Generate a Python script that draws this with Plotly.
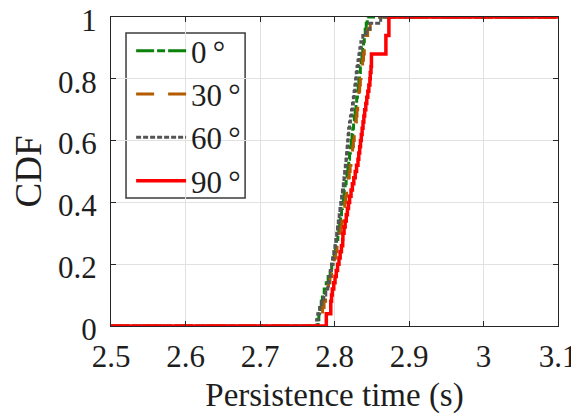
import numpy as np
import plotly.graph_objects as go

# Persistence time samples (s)
t_0deg = [2.778, 2.779, 2.7806, 2.7822, 2.7838, 2.7862, 2.7889, 2.7915, 2.7942, 2.7963,
          2.798, 2.7996, 2.8012, 2.8029, 2.8045, 2.8057, 2.807, 2.8082, 2.8094, 2.8107,
          2.8119, 2.8131, 2.8143, 2.8156, 2.8168, 2.818, 2.8191, 2.8202, 2.8213, 2.8224,
          2.8235, 2.8245, 2.8256, 2.8266, 2.8277, 2.8288, 2.8298, 2.8308, 2.8318, 2.8327,
          2.8337, 2.8347, 2.8358, 2.8368, 2.8379, 2.8389, 2.84, 2.8412, 2.8426, 2.844]
t_30deg = [2.781, 2.7825, 2.784, 2.786, 2.788, 2.79, 2.792, 2.794, 2.796, 2.798,
           2.7998, 2.8016, 2.8034, 2.8052, 2.807, 2.8084, 2.8097, 2.8111, 2.8125, 2.8138,
           2.8151, 2.8163, 2.8175, 2.8187, 2.8198, 2.821, 2.8221, 2.8232, 2.8243, 2.8254,
           2.8265, 2.8275, 2.8284, 2.8293, 2.8302, 2.8311, 2.832, 2.8329, 2.8338, 2.8347,
           2.8356, 2.8365, 2.8377, 2.8389, 2.84, 2.8412, 2.8424, 2.8445, 2.848, 2.852]
t_60deg = [2.776, 2.7775, 2.78, 2.7829, 2.7856, 2.7883, 2.791, 2.7926, 2.7943, 2.7959,
           2.7975, 2.7992, 2.8006, 2.8017, 2.8029, 2.804, 2.8051, 2.8063, 2.8073, 2.8084,
           2.8095, 2.8106, 2.8118, 2.8127, 2.8136, 2.8145, 2.8154, 2.8162, 2.8169, 2.8176,
           2.8183, 2.819, 2.8201, 2.8214, 2.8228, 2.8241, 2.8253, 2.8263, 2.8273, 2.8283,
           2.8292, 2.8302, 2.8315, 2.8328, 2.834, 2.8354, 2.838, 2.8425, 2.8473, 2.862]
t_90deg = [2.789, 2.789, 2.795, 2.795, 2.796, 2.797, 2.799, 2.8007, 2.8024, 2.8041,
           2.806, 2.8076, 2.8093, 2.811, 2.8113, 2.8128, 2.8143, 2.8158, 2.8173, 2.8188,
           2.8203, 2.8222, 2.824, 2.8259, 2.8278, 2.8296, 2.8315, 2.8326, 2.8338, 2.8349,
           2.836, 2.8371, 2.8383, 2.8394, 2.8405, 2.842, 2.8433, 2.8447, 2.8461, 2.8475,
           2.848, 2.849, 2.8496, 2.8496, 2.869, 2.869, 2.869, 2.873, 2.873, 2.873]

labels = ["0\u2009°", "30\u2009°", "60\u2009°", "90\u2009°"]
x_ticks = [2.5, 2.6, 2.7, 2.8, 2.9, 3.0, 3.1]
x_tick_text = ["2.5", "2.6", "2.7", "2.8", "2.9", "3", "3.1"]
y_ticks = [0, 0.2, 0.4, 0.6, 0.8, 1]
y_tick_text = ["0", "0.2", "0.4", "0.6", "0.8", "1"]
x_min, x_max = 2.5, 3.1

series = [t_0deg, t_30deg, t_60deg, t_90deg]
styles = [
    dict(color="rgb(10,130,10)", dash="18px,3px,8px,3px", width=3),
    dict(color="rgb(180,90,0)", dash="18px,14px", width=3),
    dict(color="rgb(85,85,85)", dash="5px,2px", width=3),
    dict(color="rgb(255,0,0)", dash="solid", width=3.5),
]

FONT = "Liberation Serif, Times New Roman, serif"
TXT = "rgb(30,30,30)"
fig = go.Figure()
for samples, name, st in zip(series, labels, styles):
    s = np.sort(np.asarray(samples, dtype=float))
    n = len(s)
    cdf = np.arange(1, n + 1) / n
    xs = np.concatenate([[x_min], s, [x_max]])
    ys = np.concatenate([[0.0], cdf, [1.0]])
    fig.add_trace(go.Scatter(x=xs, y=ys, mode="lines", name=name,
                             line=dict(shape="hv", **st)))

axis_common = dict(
    showline=True, linecolor="rgb(38,38,38)", linewidth=1, mirror="ticks",
    ticks="inside", ticklen=5, tickcolor="rgb(38,38,38)",
    showgrid=True, gridcolor="rgb(225,225,225)", gridwidth=1,
    zeroline=False, automargin=False, ticklabeloverflow="allow",
    tickfont=dict(family=FONT, size=31, color=TXT),
)
fig.update_xaxes(range=[x_min, x_max], tickvals=x_ticks, ticktext=x_tick_text,
                 ticklabelstandoff=3,
                 title=dict(text="Persistence time (s)", font=dict(family=FONT, size=33, color=TXT),
                            standoff=9),
                 **axis_common)
fig.update_yaxes(range=[0, 1], tickvals=y_ticks, ticktext=y_tick_text,
                 ticklabelstandoff=7, ticklabelshift=3,
                 title=dict(text="CDF", font=dict(family=FONT, size=37, color=TXT),
                            standoff=6),
                 **axis_common)

# legend frame (white box hiding the grid behind the legend, like the reference)
fig.add_shape(type="rect", xref="paper", yref="paper",
              x0=0.0336, x1=0.300, y0=0.414, y1=0.948,
              line=dict(color="rgb(60,60,60)", width=1.5),
              fillcolor="white", layer="between")

fig.update_layout(
    width=571, height=409,
    margin=dict(l=103, r=21, t=9, b=91),
    paper_bgcolor="white", plot_bgcolor="white",
    font=dict(family=FONT, color=TXT),
    legend=dict(x=0.045, y=0.977, xanchor="left", yanchor="top",
                bgcolor="rgba(0,0,0,0)", borderwidth=0,
                font=dict(family=FONT, size=31, color=TXT),
                tracegroupgap=0, itemwidth=50),
    showlegend=True,
)

fig.write_html("out.html")
